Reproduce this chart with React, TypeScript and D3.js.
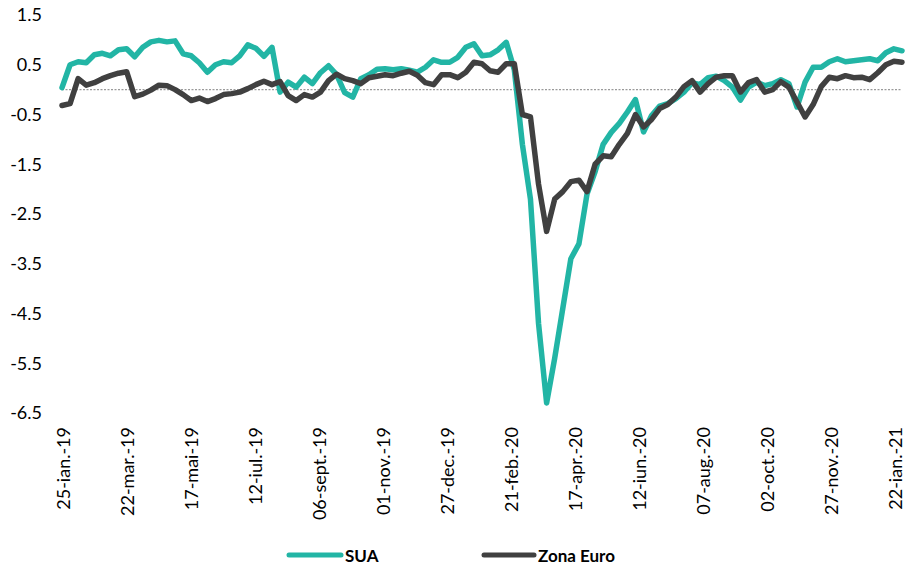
import React from "react";
import * as d3 from "d3";

const startDate = new Date(2019, 0, 25);
const tickLabels = ["25-ian.-19", "22-mar.-19", "17-mai-19", "12-iul.-19", "06-sept.-19", "01-nov.-19", "27-dec.-19", "21-feb.-20", "17-apr.-20", "12-iun.-20", "07-aug.-20", "02-oct.-20", "27-nov.-20", "22-ian.-21"];
const yTicks = [1.5, 0.5, -0.5, -1.5, -2.5, -3.5, -4.5, -5.5, -6.5];

const sua = [
  0.04, 0.5, 0.56, 0.54, 0.7, 0.73, 0.68, 0.8, 0.82, 0.66,
  0.85, 0.96, 0.99, 0.96, 0.98, 0.72, 0.68, 0.54, 0.35, 0.5,
  0.56, 0.54, 0.68, 0.9, 0.83, 0.67, 0.85, -0.05, 0.15, 0.05,
  0.25, 0.12, 0.34, 0.48, 0.3, -0.06, -0.15, 0.22, 0.3, 0.41,
  0.42, 0.4, 0.42, 0.39, 0.35, 0.45, 0.6, 0.55, 0.55, 0.65,
  0.85, 0.92, 0.68, 0.7, 0.8, 0.95, 0.4, -1.1, -2.2, -4.7,
  -6.3, -5.4, -4.4, -3.4, -3.1, -2.1, -1.65, -1.1, -0.86, -0.68,
  -0.45, -0.2, -0.85, -0.52, -0.33, -0.28, -0.18, -0.05, 0.14, 0.1,
  0.24, 0.27, 0.18, 0.05, -0.21, 0.05, 0.15, 0.08, 0.12, 0.2,
  0.12, -0.35, 0.15, 0.45, 0.45, 0.56, 0.62, 0.56, 0.58, 0.6,
  0.62, 0.58, 0.74, 0.82, 0.78,
];

const zonaEuro = [
  -0.32, -0.28, 0.22, 0.09, 0.14, 0.22, 0.28, 0.33, 0.36, -0.14,
  -0.09, -0.01, 0.09, 0.08, 0.0, -0.1, -0.22, -0.17, -0.24, -0.18,
  -0.1, -0.08, -0.05, 0.02, 0.1, 0.17, 0.1, 0.16, -0.12, -0.22,
  -0.1, -0.15, -0.05, 0.18, 0.31, 0.22, 0.18, 0.12, 0.24, 0.27,
  0.3, 0.28, 0.33, 0.37, 0.29, 0.14, 0.1, 0.3, 0.3, 0.24,
  0.35, 0.55, 0.52, 0.38, 0.35, 0.52, 0.52, -0.5, -0.55, -1.9,
  -2.85, -2.2, -2.05, -1.85, -1.82, -2.05, -1.5, -1.33, -1.35, -1.1,
  -0.88, -0.5, -0.75, -0.6, -0.38, -0.3, -0.15, 0.06, 0.18, -0.05,
  0.12, 0.25, 0.28, 0.28, -0.05, 0.14, 0.2, -0.05, 0.0, 0.16,
  0.05, -0.25, -0.55, -0.3, 0.06, 0.25, 0.22, 0.28, 0.24, 0.25,
  0.2, 0.34, 0.5, 0.57, 0.55,
];

const dates = sua.map((_, i) => d3.timeDay.offset(startDate, i * 7));

const W = 905, H = 567;
const FONT = "Lato, 'Open Sans', sans-serif";

export default function App() {
  const x = d3.scaleTime().domain([dates[0], dates[dates.length - 1]]).range([62, 902]);
  const y = d3.scaleLinear().domain([-6.5, 1.5]).range([413, 15]);
  const xl = d3.scalePoint<string>().domain(tickLabels).range([63, 895]);
  const line = d3.line<number>().x((_, i) => x(dates[i])).y((d) => y(d));

  return (
    <svg width={W} height={H} style={{ position: "absolute", left: 0, top: 0, background: "#fff" }} fontFamily={FONT}>
      {yTicks.map((t) => (
        <text key={t} x={42} y={y(t)} dy="0.36em" textAnchor="end" fontSize={18} fill="#000">
          {t.toFixed(1)}
        </text>
      ))}
      <line x1={62} x2={902} y1={y(0)} y2={y(0)} stroke="#9a9a9a" strokeWidth={1.2} strokeDasharray="2,1.5" />
      <path d={line(sua) || ""} fill="none" stroke="#22b5a5" strokeWidth={5.5} strokeLinejoin="round" strokeLinecap="round" />
      <path d={line(zonaEuro) || ""} fill="none" stroke="#404040" strokeWidth={5.5} strokeLinejoin="round" strokeLinecap="round" />
      {tickLabels.map((lab) => (
        <text key={lab} transform={`translate(${(xl(lab) || 0) + 6.5},427) rotate(-90)`} textAnchor="end" fontSize={18} fill="#000">
          {lab}
        </text>
      ))}
      <line x1={289} x2={341} y1={555} y2={555} stroke="#22b5a5" strokeWidth={5} strokeLinecap="round" />
      <text x={345} y={562} fontSize={17} fontWeight="bold" fill="#000">SUA</text>
      <line x1={484} x2={534} y1={555} y2={555} stroke="#404040" strokeWidth={5} strokeLinecap="round" />
      <text x={538} y={562} fontSize={17} fontWeight="bold" fill="#000">Zona Euro</text>
    </svg>
  );
}
